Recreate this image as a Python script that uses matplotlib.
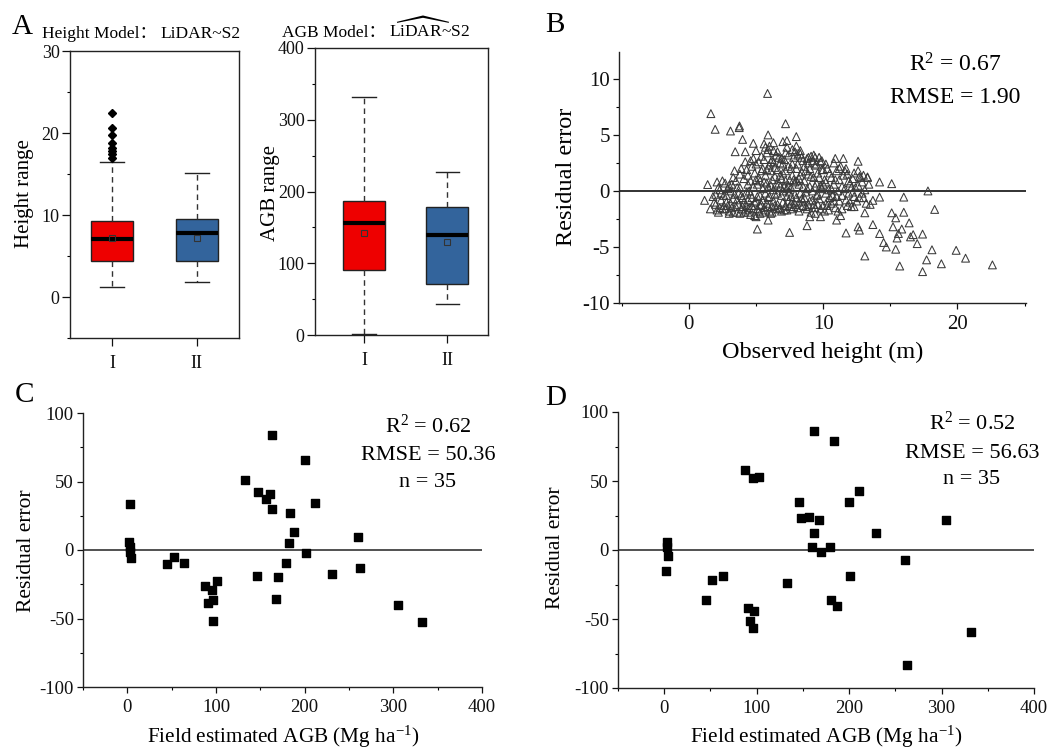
import matplotlib.pyplot as plt
from matplotlib.ticker import MultipleLocator
import numpy as np

plt.rcParams['font.family'] = ['Liberation Serif', 'Noto Sans CJK SC']
plt.rcParams['mathtext.fontset'] = 'custom'
plt.rcParams['mathtext.rm'] = 'Liberation Serif'
plt.rcParams['mathtext.it'] = 'Liberation Serif:italic'
plt.rcParams['mathtext.bf'] = 'Liberation Serif:bold'
plt.rcParams['axes.unicode_minus'] = False

# %%
# Panel A: box plot summaries
groups = ["I", "II"]
box_colors = ["#EE0000", "#33649C"]

height_q1 = [4.4, 4.45]
height_med = [7.1, 7.85]
height_q3 = [9.3, 9.5]
height_mean = [7.2, 7.2]
height_lo = [1.2, 1.8]
height_hi = [16.5, 15.1]
height_fliers_I = [17.0, 17.4, 17.8, 18.2, 18.8, 19.8, 20.6, 22.4]

agb_q1 = [90, 71]
agb_med = [156, 140]
agb_q3 = [187, 179]
agb_mean = [142, 129]
agb_lo = [1, 43]
agb_hi = [332, 227]

# Panel B: residuals of the height model
# points away from the main cloud
b_edge_x = [1.64, 1.96, 5.86, 3.1, 3.75, 3.77, 3.45, 4.0, 4.2, 4.8,
            5.9, 7.2, 8.0, 7.3, 1.4, 1.17, 1.6, 2.1, 5.1, 5.9,
            7.5, 8.8, 10.9, 11.5, 12.6, 11.7, 12.6, 12.7, 13.1, 13.1,
            13.7, 14.2, 14.2, 14.5, 14.7, 15.1, 15.1, 15.2, 15.4, 15.4,
            15.5, 15.6, 15.7, 15.85, 16.0, 16.0, 16.4, 16.5, 16.7, 17.0,
            17.4, 17.4, 17.7, 17.8, 18.1, 18.3, 18.8, 19.9, 20.6, 22.6,
            14.2, 13.7, 13.3, 13.0, 13.5, 12.3, 11.3, 11.0, 9.8, 9.4,
            9.0]
b_edge_y = [6.9, 5.5, 8.7, 5.35, 5.65, 5.8, 3.5, 4.6, 3.5, 4.25,
            5.0, 6.0, 4.85, 4.5, 0.57, -0.84, -1.6, 0.8, -3.4, -2.6,
            -3.7, -3.1, 2.9, 2.9, 2.65, -3.75, -3.2, -3.5, -5.8, -1.95,
            -3.0, 0.8, -3.8, -4.6, -5.0, 0.65, -1.95, -3.2, -2.4, -5.2,
            -4.2, -3.8, -6.7, -3.4, -0.55, -1.9, -2.85, -4.1, -3.9, -4.7,
            -3.85, -7.2, -6.15, 0.0, -5.25, -1.65, -6.5, -5.3, -6.0, -6.6,
            -0.55, -0.84, 1.25, 1.4, -1.2, -1.4, -2.2, -2.6, -2.3, -2.0,
            -2.3]
# main cloud
b_core_x = [1.8, 2.0, 2.2, 2.3, 2.4, 2.1, 2.5, 2.4, 1.9, 2.6,
            2.7, 2.8, 2.9, 3.0, 3.1, 3.2, 3.3, 3.0, 3.4, 2.8, 3.2, 3.4, 3.5, 3.1,
            3.6, 3.7, 3.8, 3.9, 4.0, 4.1, 4.2, 4.3, 4.4, 3.6, 3.8, 4.0, 4.2, 4.4, 4.5, 3.7, 4.1,
            4.6, 4.7, 4.8, 4.9, 5.0, 5.1, 5.2, 5.3, 5.4, 4.6, 4.8, 5.0, 5.2, 5.4, 5.5, 4.7, 4.9, 5.1, 5.3, 5.5, 5.0, 5.3,
            5.6, 5.7, 5.8, 5.9, 6.0, 6.1, 6.2, 6.3, 6.4, 5.6, 5.8, 6.0, 6.2, 6.4, 6.5, 5.7, 5.9, 6.1, 6.3, 6.5, 5.6, 6.0, 6.3, 6.2, 5.9, 6.4,
            6.6, 6.7, 6.8, 6.9, 7.0, 7.1, 7.2, 7.3, 7.4, 6.6, 6.8, 7.0, 7.2, 7.4, 7.5, 6.7, 6.9, 7.1, 7.3, 7.5, 7.0, 7.3, 6.6, 7.2, 6.8,
            7.6, 7.7, 7.8, 7.9, 8.0, 8.1, 8.2, 8.3, 8.4, 7.6, 7.8, 8.0, 8.2, 8.4, 8.5, 7.7, 7.9, 8.1, 8.3, 8.5, 8.0, 7.6, 8.2,
            8.6, 8.7, 8.8, 8.9, 9.0, 9.1, 9.2, 9.3, 9.4, 8.6, 8.8, 9.0, 9.2, 9.4, 9.5, 8.7, 8.9, 9.1, 9.3, 9.5,
            9.6, 9.7, 9.8, 9.9, 10.0, 10.1, 10.2, 10.3, 10.4, 9.6, 9.8, 10.0, 10.2, 10.4, 10.5, 9.7, 10.1, 10.3,
            10.6, 10.7, 10.8, 10.9, 11.0, 11.1, 11.2, 11.3, 11.4, 10.6, 10.8, 11.0, 11.2, 11.4, 11.5,
            11.6, 11.7, 11.8, 11.9, 12.0, 12.1, 12.2, 12.3, 12.4, 11.7, 12.0, 12.2,
            12.6, 12.7, 12.8, 12.9, 13.1, 13.2, 13.4, 12.7]
b_core_y = [-0.5, -1.2, 0.3, -1.5, -0.8, -1.7, 0.9, -0.2, -1.0, -1.3,
            -1.6, -0.4, 0.2, -1.8, -1.1, 0.6, -0.7, -2.0, 1.8, -1.0, -1.5, -0.3, 0.9, 0.0,
            -1.9, -1.2, 0.3, 2.0, -0.6, 1.1, -1.7, -0.1, 0.6, -0.8, 1.5, -1.4, 2.6, -1.9, 0.0, -0.2, -1.0,
            -2.1, -1.3, 0.4, 1.6, 2.4, -0.5, -1.8, 0.9, 3.1, -0.3, -1.6, -0.9, 1.2, -1.2, 0.2, 2.2, -2.2, 0.6, -0.4, 2.0, 3.6, -2.0,
            -1.5, -0.2, 1.9, 3.7, -1.8, 0.5, 2.8, -0.9, 1.3, 0.8, -1.1, 2.3, -1.4, -0.3, 3.2, 1.4, -0.6, -2.0, 0.1, -1.6, 4.2, 4.0, 4.3, 1.0, 0.3, 2.1,
            -1.2, 0.7, 2.5, -0.4, 1.6, -1.7, 3.4, 0.2, -0.9, 1.9, -1.5, 0.0, -1.3, 2.2, 1.0, 3.0, 1.1, 2.8, -0.5, -1.4, 4.4, 3.9, -0.2, 0.9, 0.4,
            -1.1, 1.4, 3.0, -0.3, 2.0, -1.5, 0.6, 3.6, -0.7, 0.3, -1.4, 0.9, -1.0, 1.7, 2.7, 2.4, 0.8, 3.2, -0.2, -1.3, 4.0, -0.5, 1.1,
            -0.6, 1.8, 2.9, -1.2, 0.4, 3.1, -0.8, 1.2, 2.3, 0.9, -1.6, 2.0, 0.0, -1.5, 0.7, -0.1, 1.5, -1.9, 3.2, -0.4,
            1.6, -0.7, 2.6, 0.2, -1.3, 1.0, -0.2, 2.0, -1.7, -1.2, 0.5, 1.9, 0.8, 0.1, -0.6, 3.0, -1.8, -0.9,
            1.2, -0.4, 0.6, -1.5, 1.8, 0.0, -0.9, 2.2, 0.4, -1.1, 2.5, -0.5, 1.0, -1.6, 1.4,
            0.2, -0.8, 1.5, -0.2, 0.7, -1.4, 1.1, -0.5, 0.3, 2.0, -1.0, -0.1,
            0.5, -0.6, 1.2, -0.2, 0.1, -1.1, 0.6, 1.3]
# more of the main cloud (it is dense)
b_fill_x = [2.2, 2.5, 2.6, 2.9, 3.0, 3.3, 3.5, 3.6, 3.9, 3.9, 2.3, 2.7, 3.3, 3.8, 2.0,
            4.1, 4.3, 4.4, 4.5, 4.6, 4.7, 4.8, 4.9, 5.0, 5.1, 5.2, 5.3, 5.4, 5.5, 5.6, 5.7, 5.8, 5.9, 4.3, 4.6, 5.0, 5.5, 5.7, 5.8, 4.4,
            6.0, 6.1, 6.2, 6.3, 6.4, 6.5, 6.6, 6.7, 6.8, 6.9, 7.0, 7.1, 7.2, 7.3, 7.4, 7.5, 7.6, 7.7, 7.8, 7.9, 6.3, 6.9, 7.4, 7.7, 6.1, 7.0, 7.9,
            8.0, 8.1, 8.2, 8.3, 8.4, 8.5, 8.6, 8.7, 8.8, 8.9, 9.0, 9.1, 9.2, 9.3, 9.4, 9.5, 9.6, 9.7, 9.8, 9.9, 8.3, 8.9, 9.4, 9.9, 8.5,
            10.0, 10.2, 10.3, 10.5, 10.6, 10.8, 10.9, 11.1, 11.2, 11.4, 11.6, 11.8, 11.9, 12.1, 12.3, 12.5, 12.6, 12.9, 13.0, 13.3]
b_fill_y = [-1.9, -1.6, -0.4, -1.3, 0.5, -1.9, -1.4, 0.3, -1.6, -0.4, 0.1, 0.7, 1.2, -2.0, -0.3,
            -1.9, -1.3, 1.4, -1.5, 0.9, -0.6, 2.9, -1.0, 1.0, -1.6, 2.6, -1.3, 1.8, -1.9, 2.8, -1.7, 3.4, -1.4, 1.9, 2.7, -2.3, -0.8, 3.9, 0.7, -0.8,
            -0.5, 1.8, -1.9, 2.5, -1.3, 0.6, 3.5, -1.6, 1.4, 2.9, -1.0, 0.4, 1.8, -1.7, 3.2, -0.1, 2.0, -1.6, 1.0, 3.5, 3.6, -1.8, 0.5, 3.7, 2.6, 2.4, -1.2,
            -0.6, 2.4, -1.8, 1.4, 3.0, -0.9, 2.2, -1.4, 0.2, 2.5, -0.9, 1.3, 2.7, -1.2, 0.4, 2.4, -0.3, 1.2, -1.6, 1.9, 3.3, 3.0, 3.0, 2.7, 0.4,
            0.6, 2.4, -1.3, 1.6, 0.2, -0.9, 1.0, -1.8, 2.0, -0.4, 1.8, -1.3, 0.9, 0.3, 1.6, -0.9, 1.8, 0.8, -0.6, 1.2]

# Panel C: AGB residuals, model 1
c_agb = [2.7, 1.9, 2.7, 3.4, 3.8, 45, 52.6, 64, 88, 90.5,
         95.5, 96.6, 96.6, 101.5, 132.6, 145.8, 147.7, 156, 160.6, 162.9,
         162.9, 167.4, 169.7, 179.5, 181.8, 183.7, 187.5, 200.8, 201.9, 211.7,
         230.3, 260.2, 262.9, 305, 332.6]
c_res = [33.7, 6, 2.4, -1.2, -6, -10.5, -4.9, -9.8, -26, -39,
         -29, -36.6, -52, -22.4, 51.2, -18.8, 42.7, 37, 41, 29.8,
         83.7, -35.9, -19.5, -9.8, 4.9, 27.3, 12.9, 65.4, -2.4, 34.6,
         -17.6, 9.3, -13.4, -39.8, -52.9]

# Panel D: AGB residuals, model 2
d_agb = [2.9, 2.9, 3.6, 2.2, 45, 52, 64, 87.7, 90.3, 93,
         96, 96.8, 96, 102, 132.9, 145.8, 148, 156.3, 160.3, 162.5,
         162.5, 167.5, 169.7, 179, 180.5, 183.4, 187, 200.4, 201.4, 211.2,
         229.6, 260, 262.8, 305, 332]
d_res = [5.6, 1.9, -4.6, -15.5, -36, -21.7, -19, 58.2, -42, -51.7,
         52.2, -44.4, -56.8, 52.7, -24.2, 34.5, 23, 23.7, 1.9, 86,
         12, 21.7, -1.2, 2.4, -36.2, 79.2, -40.3, 35, -18.6, 43,
         12.3, -7, -83, 21.7, -59.7]

# %%
W, H = 1057, 753
fig = plt.figure(figsize=(W / 100, H / 100), dpi=100)


def px_axes(left, top, right, bottom):
    return fig.add_axes([left / W, 1 - bottom / H, (right - left) / W, (bottom - top) / H])


def px_text(x, y, s, **kw):
    return fig.text(x / W, 1 - y / H, s, **kw)


def style_ticks(ax, size):
    ax.tick_params(which='major', direction='out', length=4.5, width=0.9, labelsize=size, pad=2, colors='#111')
    ax.tick_params(which='minor', direction='out', length=2.5, width=0.8)
    for sp in ax.spines.values():
        sp.set_color('#222')
        sp.set_linewidth(1.0)


def draw_boxes(ax, q1, med, q3, mean, lo, hi, fliers):
    stats = []
    for i in range(len(groups)):
        stats.append(dict(q1=q1[i], med=med[i], q3=q3[i], mean=mean[i],
                          whislo=lo[i], whishi=hi[i], fliers=fliers[i]))
    bp = ax.bxp(stats, positions=[1, 2], widths=0.5, capwidths=0.28,
                showmeans=True, patch_artist=True,
                boxprops=dict(edgecolor='#222', linewidth=1.0),
                whiskerprops=dict(linestyle=(0, (4, 3)), color='#333', linewidth=1.0),
                capprops=dict(color='#222', linewidth=1.0),
                medianprops=dict(color='black', linewidth=3),
                meanprops=dict(marker='s', markerfacecolor='none', markeredgecolor='#333',
                               markersize=4, markeredgewidth=0.8),
                flierprops=dict(marker='D', markerfacecolor='black', markeredgecolor='black',
                                markersize=4))
    for patch, c in zip(bp['boxes'], box_colors):
        patch.set_facecolor(c)
    ax.set_xticks([1, 2])
    ax.set_xticklabels(groups, fontsize=13)
    ax.tick_params(axis='x', length=6, pad=6)
    ax.tick_params(axis='y', length=6, pad=1.5)


# --- A left: height
axA1 = px_axes(70, 51, 239, 338)
style_ticks(axA1, 13)
draw_boxes(axA1, height_q1, height_med, height_q3, height_mean, height_lo, height_hi,
           [height_fliers_I, []])
axA1.set_xlim(0.5, 2.5)
axA1.set_ylim(-5, 30)
axA1.yaxis.set_major_locator(MultipleLocator(10))
axA1.yaxis.set_minor_locator(MultipleLocator(5))
px_text(24, 194, "Height range", rotation=90, ha='center', va='center', fontsize=15)

# --- A right: AGB
axA2 = px_axes(315, 48, 488, 335)
style_ticks(axA2, 13)
draw_boxes(axA2, agb_q1, agb_med, agb_q3, agb_mean, agb_lo, agb_hi, [[], []])
axA2.set_xlim(0.41, 2.49)
axA2.set_ylim(0, 400)
axA2.yaxis.set_major_locator(MultipleLocator(100))
axA2.yaxis.set_minor_locator(MultipleLocator(50))
px_text(270, 193, "AGB range", rotation=90, ha='center', va='center', fontsize=15)

px_text(12, 27, "A", fontsize=21, ha='left', va='center')
px_text(157, 38, "Height Model：", fontsize=12.5, ha='right', va='baseline')
px_text(160, 38, "LiDAR~S2", fontsize=12.5, ha='left', va='baseline')
px_text(386, 37, "AGB Model：", fontsize=12.5, ha='right', va='baseline')
px_text(389, 37, r"$\widehat{\mathrm{LiDAR}}$~S2", fontsize=12.5, ha='left', va='baseline')


# --- B: height residuals
axB = px_axes(619, 52, 1026, 303)
style_ticks(axB, 15)
axB.spines['top'].set_visible(False)
axB.spines['right'].set_visible(False)
axB.axhline(0, color='#222', linewidth=1.3, zorder=1)
for xs, ys in [(b_core_x, b_core_y), (b_fill_x, b_fill_y), (b_edge_x, b_edge_y)]:
    axB.scatter(xs, ys, marker='^', facecolors='none', edgecolors='#3a3a3a',
                s=32, linewidths=0.75, zorder=2)
axB.set_xlim(-5.2, 25.1)
axB.set_ylim(-10, 12.4)
axB.xaxis.set_major_locator(MultipleLocator(10))
axB.xaxis.set_minor_locator(MultipleLocator(5))
axB.yaxis.set_major_locator(MultipleLocator(5))
axB.yaxis.set_minor_locator(MultipleLocator(2.5))
axB.tick_params(axis='x', pad=4)
px_text(567, 177, "Residual error", rotation=90, ha='center', va='center', fontsize=17.5)
px_text(823, 358, "Observed height (m)", ha='center', va='baseline', fontsize=17.5)
px_text(955, 72, r"R$^2$ = 0.67", ha='center', va='baseline', fontsize=17)
px_text(955, 103, "RMSE = 1.90", ha='center', va='baseline', fontsize=17)
px_text(545, 25, "B", fontsize=21, ha='left', va='center')


# --- C and D: AGB residuals
def agb_panel(box, xs, ys, stats, stat_x, stat_y, lab_x, lab_y, xl_x, xl_y, letter, letter_xy):
    ax = px_axes(*box)
    style_ticks(ax, 13.5)
    ax.spines['top'].set_visible(False)
    ax.spines['right'].set_visible(False)
    ax.axhline(0, color='#222', linewidth=1.1, zorder=1)
    ax.scatter(xs, ys, marker='s', color='black', s=38, zorder=2)
    ax.set_xlim(-50, 400)
    ax.set_ylim(-100, 100)
    ax.xaxis.set_major_locator(MultipleLocator(100))
    ax.xaxis.set_minor_locator(MultipleLocator(50))
    ax.yaxis.set_major_locator(MultipleLocator(50))
    ax.yaxis.set_minor_locator(MultipleLocator(25))
    ax.tick_params(axis='x', pad=4)
    px_text(lab_x, lab_y, "Residual error", rotation=90, ha='center', va='center', fontsize=15.5)
    px_text(xl_x, xl_y, r"Field estimated AGB (Mg ha$^{-1}$)", ha='center', va='baseline', fontsize=15.3)
    for s, yy in zip(stats, stat_y):
        px_text(stat_x, yy, s, ha='center', va='baseline', fontsize=16)
    px_text(letter_xy[0], letter_xy[1], letter, fontsize=21, ha='left', va='center')
    return ax


agb_panel((83, 413, 482, 687), c_agb, c_res,
          [r"R$^2$ = 0.62", "RMSE = 50.36", "n = 35"], 428, [433, 460, 487],
          27, 551, 283, 743, "C", (15, 395))
agb_panel((618, 412, 1034, 688), d_agb, d_res,
          [r"R$^2$ = 0.52", "RMSE = 56.63", "n = 35"], 972, [430, 458, 484],
          556, 548, 826, 743, "D", (545, 398))

fig.savefig("out.png", dpi=100)
